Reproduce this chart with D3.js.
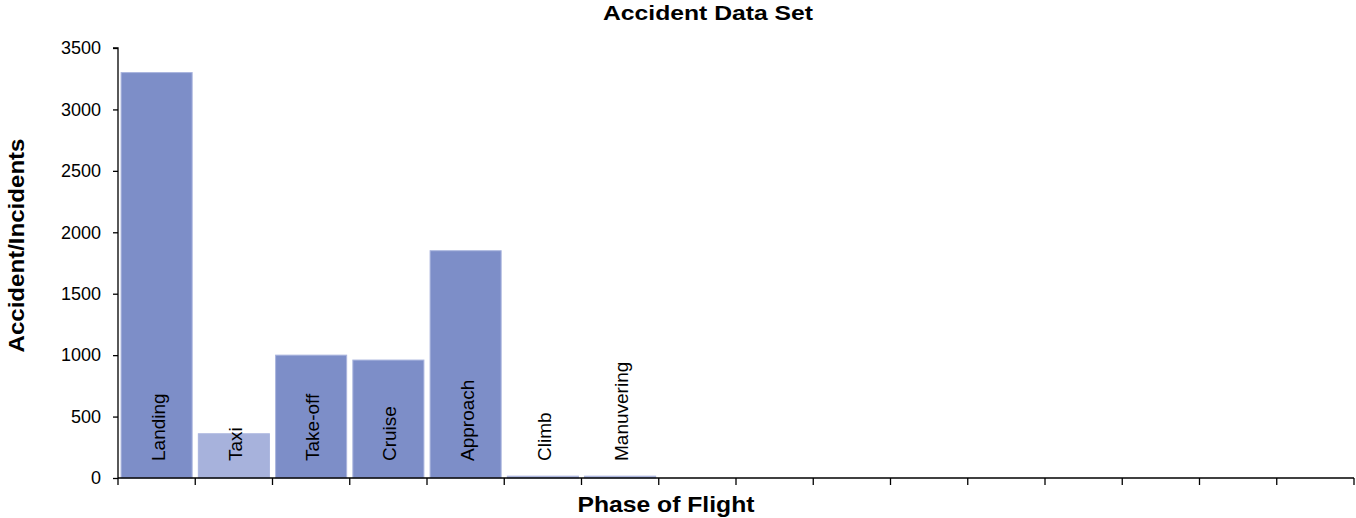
<!DOCTYPE html>
<html>
<head>
<meta charset="utf-8">
<script src="https://cdn.jsdelivr.net/npm/d3@7"></script>
<style>
  html, body { margin: 0; padding: 0; background: #fff; }
  svg { display: block; font-family: "Liberation Sans", Arial, sans-serif; }
</style>
</head>
<body>
<svg id="chart" width="1356" height="518"></svg>
<script>
// Phases of flight: 16 slots on the axis, only the first seven carry data
const phases = ["Landing", "Taxi", "Take-off", "Cruise", "Approach", "Climb", "Manuvering",
                "", "", "", "", "", "", "", "", ""];
const counts = [3300, 360, 1000, 960, 1850, 15, 15, null, null, null, null, null, null, null, null, null];
// Lighter shading for the smaller phases
const shade = ["dark", "light", "dark", "dark", "dark", "light", "light"];
const yTicks = [0, 500, 1000, 1500, 2000, 2500, 3000, 3500];

const svg = d3.select("#chart");
const margin = { left: 118, right: 2, top: 48, bottom: 40 };
const W = 1356, H = 518;
const plotBottom = 478;

const slots = phases.map((p, i) => "slot" + i);
const x = d3.scaleBand().domain(slots).range([margin.left, W - margin.right]).paddingInner(0.08).paddingOuter(0.04);
const y = d3.scaleLinear().domain([0, 3500]).range([plotBottom, margin.top]);

const colors = { dark: "#7d8ec8", light: "#a7b2dc" };

// Bars
const data = phases.map((p, i) => ({ slot: slots[i], name: p, value: counts[i], shade: shade[i] }))
  .filter(d => d.value != null);

svg.append("g").selectAll("rect").data(data).join("rect")
  .attr("x", d => x(d.slot))
  .attr("y", d => y(d.value))
  .attr("width", x.bandwidth())
  .attr("height", d => y(0) - y(d.value))
  .attr("fill", d => colors[d.shade])
  .attr("stroke", "#aab5de")
  .attr("stroke-width", 1);

// Y axis
const yAxis = d3.axisLeft(y).tickValues(yTicks).tickSize(5).tickPadding(12).tickFormat(d3.format("d"));
const gy = svg.append("g").attr("transform", `translate(${margin.left},0)`).call(yAxis);
gy.selectAll("text").attr("font-size", 18).attr("fill", "#000").attr("font-family", "Liberation Sans, Arial, sans-serif");
gy.selectAll("line, path").attr("stroke", "#000").attr("stroke-width", 1.3);
gy.select(".domain").attr("d", `M-5,${y(3500)}H0V${plotBottom}`);

// X axis: ticks on slot boundaries
const bounds = d3.range(slots.length + 1).map(i => margin.left + i * (W - margin.right - margin.left) / slots.length);
const gx = svg.append("g");
gx.append("line").attr("x1", margin.left).attr("x2", W - margin.right)
  .attr("y1", plotBottom).attr("y2", plotBottom).attr("stroke", "#000").attr("stroke-width", 1.5);
gx.selectAll("line.tick").data(bounds).join("line").attr("class", "tick")
  .attr("x1", d => d).attr("x2", d => d).attr("y1", plotBottom).attr("y2", plotBottom + 7)
  .attr("stroke", "#000").attr("stroke-width", 1.3);

// Category labels, rotated inside each slot
svg.append("g").selectAll("text").data(data).join("text")
  .attr("transform", d => `translate(${x(d.slot) + x.bandwidth() / 2 + 8},${461}) rotate(-90)`)
  .attr("font-size", 19)
  .attr("fill", "#000")
  .text(d => d.name);

// Titles
svg.append("text").attr("x", 708).attr("y", 20).attr("text-anchor", "middle")
  .attr("font-size", 21).attr("font-weight", "bold")
  .attr("textLength", 210).attr("lengthAdjust", "spacingAndGlyphs").text("Accident Data Set");
svg.append("text").attr("x", 666).attr("y", 512).attr("text-anchor", "middle")
  .attr("font-size", 22).attr("font-weight", "bold")
  .attr("textLength", 177).attr("lengthAdjust", "spacingAndGlyphs").text("Phase of Flight");
svg.append("text").attr("transform", "translate(24,245.5) rotate(-90)").attr("text-anchor", "middle")
  .attr("font-size", 22).attr("font-weight", "bold")
  .attr("textLength", 214).attr("lengthAdjust", "spacingAndGlyphs").text("Accident/Incidents");
</script>
</body>
</html>
